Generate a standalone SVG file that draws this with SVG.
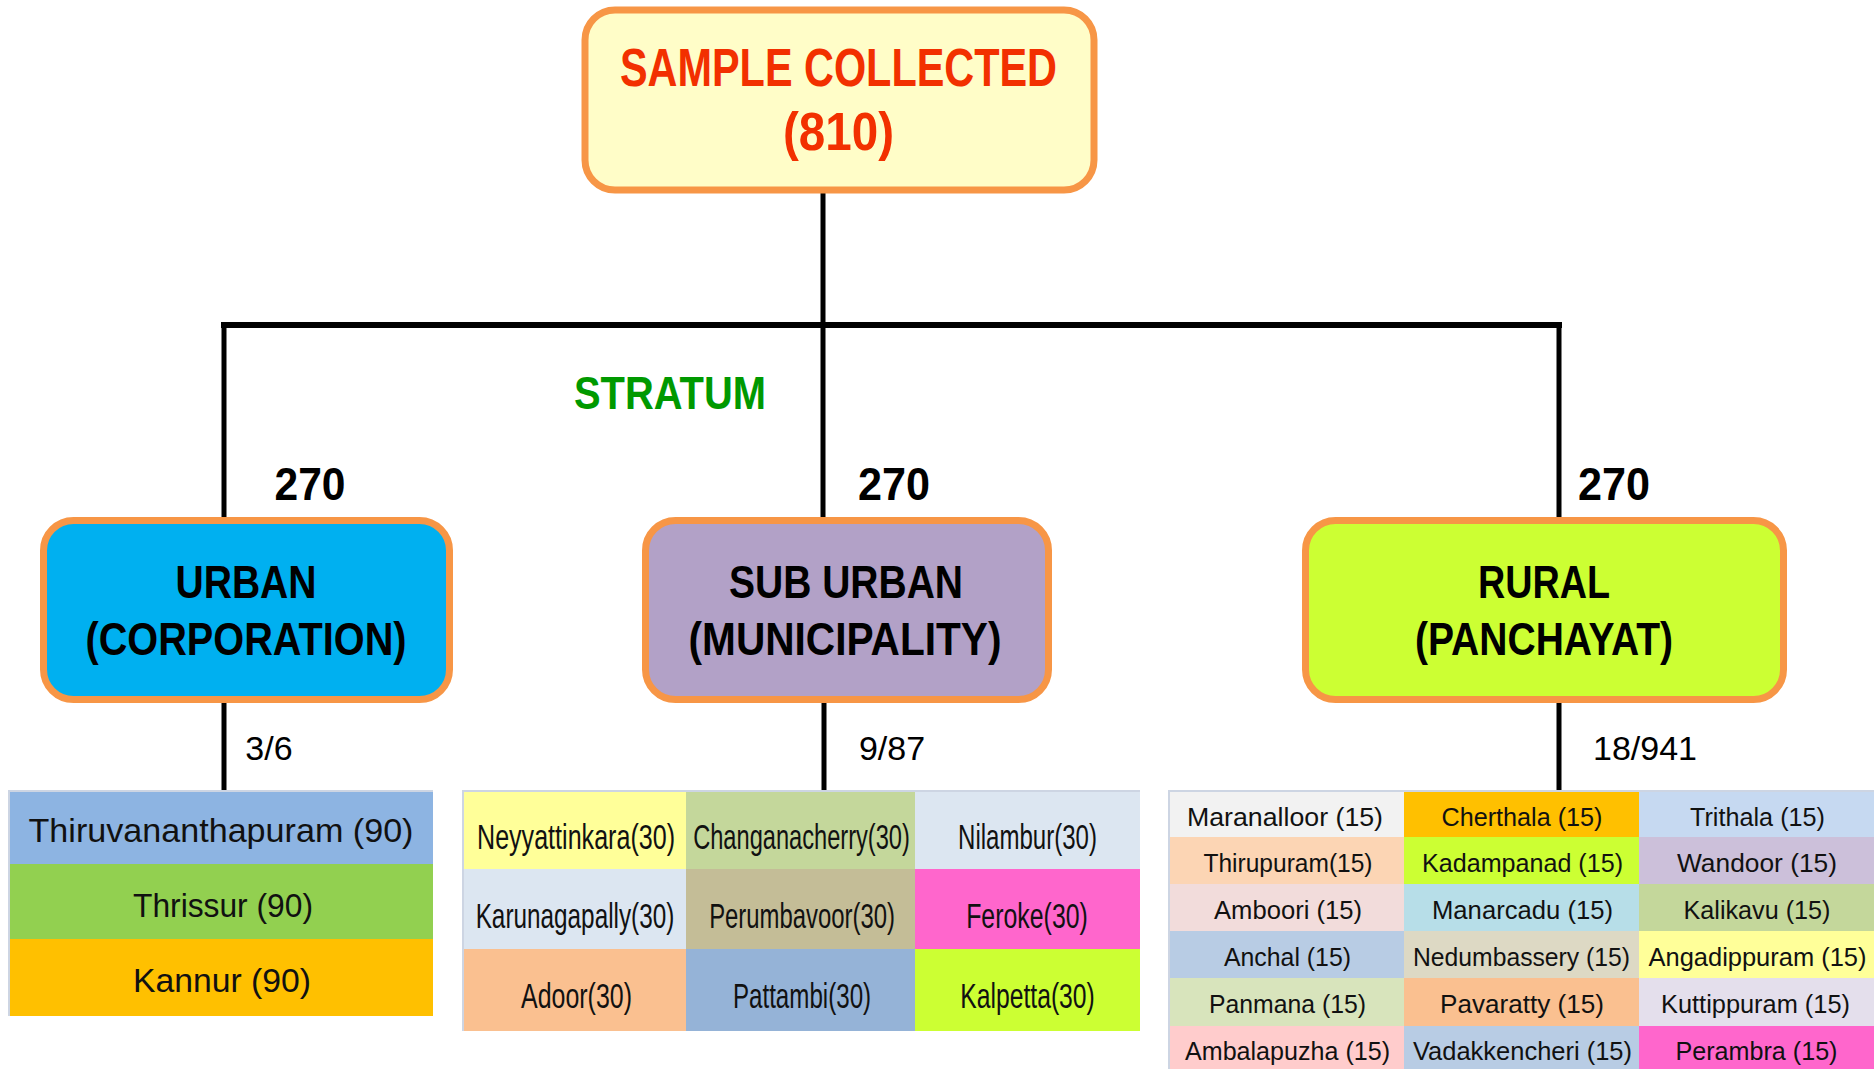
<svg xmlns="http://www.w3.org/2000/svg" width="1874" height="1069" viewBox="0 0 1874 1069">
  <style>
    .node { stroke: #F79646; stroke-width: 7; }
    .title { font-family: "Liberation Sans", Arial, sans-serif; font-weight: bold; font-size: 53px; fill: #F23000; text-anchor: middle; }
    .head { font-family: "Liberation Sans", Arial, sans-serif; font-weight: bold; font-size: 47px; fill: #000; text-anchor: middle; }
    .count { font-family: "Liberation Sans", Arial, sans-serif; font-weight: bold; font-size: 46px; fill: #000; text-anchor: middle; }
    .ratio { font-family: "Liberation Sans", Arial, sans-serif; font-size: 34px; fill: #000; text-anchor: middle; }
    .stratum { font-family: "Liberation Sans", Arial, sans-serif; font-weight: bold; font-size: 47px; fill: #009900; text-anchor: middle; }
    .wire { stroke: #000; stroke-width: 5; fill: none; }
    .bar { stroke: #000; stroke-width: 6; fill: none; }
    .edge { stroke: #CDD5E3; stroke-width: 2; fill: none; }
    .cellL { font-family: "Liberation Sans", Arial, sans-serif; font-size: 33px; fill: #111; text-anchor: middle; }
    .cellM { font-family: "Liberation Sans", Arial, sans-serif; font-size: 36px; fill: #111; text-anchor: middle; }
    .cellR { font-family: "Liberation Sans", Arial, sans-serif; font-size: 26px; fill: #111; text-anchor: middle; }
  </style>

  <rect width="1874" height="1069" fill="#FFFFFF"/>

  <!-- tree connectors -->
  <g id="connectors">
    <path class="wire" d="M823 193 V325"/>
    <path class="bar" d="M221 325 H1562"/>
    <path class="wire" d="M224 325 V517 M823 325 V517 M1559 325 V517"/>
    <path class="wire" d="M224 703 V791 M824 703 V791 M1559 703 V791"/>
  </g>

  <!-- branch labels -->
  <g id="labels">
    <text class="stratum" x="670" y="409" textLength="192" lengthAdjust="spacingAndGlyphs">STRATUM</text>
    <text class="count" x="310" y="500" textLength="71" lengthAdjust="spacingAndGlyphs">270</text>
    <text class="count" x="894" y="500" textLength="72" lengthAdjust="spacingAndGlyphs">270</text>
    <text class="count" x="1614" y="500" textLength="72" lengthAdjust="spacingAndGlyphs">270</text>
    <text class="ratio" x="269" y="760">3/6</text>
    <text class="ratio" x="892" y="760">9/87</text>
    <text class="ratio" x="1645" y="760">18/941</text>
  </g>

  <!-- root -->
  <g id="sample-collected">
    <rect class="node" x="585" y="10" width="509" height="180" rx="30" fill="#FFFDC8" stroke-width="6"/>
    <text class="title" x="838.5" y="86" textLength="437" lengthAdjust="spacingAndGlyphs">SAMPLE COLLECTED</text>
    <text class="title" x="838.5" y="150" textLength="111" lengthAdjust="spacingAndGlyphs">(810)</text>
  </g>

  <!-- strata -->
  <g id="urban">
    <rect class="node" x="43.5" y="520.5" width="406" height="179" rx="30" fill="#00B0F0"/>
    <text class="head" x="246" y="598" textLength="141" lengthAdjust="spacingAndGlyphs">URBAN</text>
    <text class="head" x="246" y="655" textLength="321" lengthAdjust="spacingAndGlyphs">(CORPORATION)</text>
  </g>
  <g id="sub-urban">
    <rect class="node" x="645.5" y="520.5" width="403" height="179" rx="30" fill="#B2A1C7"/>
    <text class="head" x="846" y="598" textLength="234" lengthAdjust="spacingAndGlyphs">SUB URBAN</text>
    <text class="head" x="845" y="655" textLength="313" lengthAdjust="spacingAndGlyphs">(MUNICIPALITY)</text>
  </g>
  <g id="rural">
    <rect class="node" x="1305.5" y="520.5" width="478" height="179" rx="30" fill="#CCFF33"/>
    <text class="head" x="1544" y="598" textLength="132" lengthAdjust="spacingAndGlyphs">RURAL</text>
    <text class="head" x="1544" y="655" textLength="258" lengthAdjust="spacingAndGlyphs">(PANCHAYAT)</text>
  </g>

  <!-- corporations -->
  <g id="urban-table">
    <rect x="9" y="791" width="424" height="73" fill="#8DB4E2"/>
    <rect x="9" y="864" width="424" height="75" fill="#92D050"/>
    <rect x="9" y="939" width="424" height="77" fill="#FFC000"/>
    <path class="edge" d="M9 1016 V791 H433"/>
    <text class="cellL" x="221" y="842" textLength="385" lengthAdjust="spacingAndGlyphs">Thiruvananthapuram (90)</text>
    <text class="cellL" x="223" y="917" textLength="180" lengthAdjust="spacingAndGlyphs">Thrissur (90)</text>
    <text class="cellL" x="222" y="992" textLength="178" lengthAdjust="spacingAndGlyphs">Kannur (90)</text>
  </g>

  <!-- municipalities: narrow lettering, squeezed horizontally -->
  <g id="sub-urban-table">
    <rect x="463" y="791" width="223" height="78" fill="#FFFF99"/>
    <rect x="686" y="791" width="229" height="78" fill="#C4D79B"/>
    <rect x="915" y="791" width="225" height="78" fill="#DCE6F1"/>
    <rect x="463" y="869" width="223" height="80" fill="#DCE6F1"/>
    <rect x="686" y="869" width="229" height="80" fill="#C4BD97"/>
    <rect x="915" y="869" width="225" height="80" fill="#FF66CC"/>
    <rect x="463" y="949" width="223" height="82" fill="#FAC090"/>
    <rect x="686" y="949" width="229" height="82" fill="#95B3D7"/>
    <rect x="915" y="949" width="225" height="82" fill="#CCFF33"/>
    <path class="edge" d="M463 1031 V791 H1140"/>
    <text class="cellM" transform="translate(576 849) scale(0.72 1)" textLength="275" lengthAdjust="spacingAndGlyphs">Neyyattinkara(30)</text>
    <text class="cellM" transform="translate(801.5 849) scale(0.72 1)" textLength="301" lengthAdjust="spacingAndGlyphs">Changanacherry(30)</text>
    <text class="cellM" transform="translate(1027.5 849) scale(0.72 1)" textLength="193" lengthAdjust="spacingAndGlyphs">Nilambur(30)</text>
    <text class="cellM" transform="translate(575 928) scale(0.72 1)" textLength="276" lengthAdjust="spacingAndGlyphs">Karunagapally(30)</text>
    <text class="cellM" transform="translate(802 928) scale(0.72 1)" textLength="258" lengthAdjust="spacingAndGlyphs">Perumbavoor(30)</text>
    <text class="cellM" transform="translate(1027 928) scale(0.72 1)" textLength="169" lengthAdjust="spacingAndGlyphs">Feroke(30)</text>
    <text class="cellM" transform="translate(576.5 1008) scale(0.72 1)" textLength="154" lengthAdjust="spacingAndGlyphs">Adoor(30)</text>
    <text class="cellM" transform="translate(802 1008) scale(0.72 1)" textLength="192" lengthAdjust="spacingAndGlyphs">Pattambi(30)</text>
    <text class="cellM" transform="translate(1027.5 1008) scale(0.72 1)" textLength="187" lengthAdjust="spacingAndGlyphs">Kalpetta(30)</text>
  </g>

  <!-- panchayats -->
  <g id="rural-table">
    <rect x="1169" y="791" width="235" height="46" fill="#F2F2F2"/>
    <rect x="1404" y="791" width="235" height="46" fill="#FFC000"/>
    <rect x="1639" y="791" width="235" height="46" fill="#C6D9F1"/>
    <rect x="1169" y="837" width="235" height="47" fill="#FCD5B4"/>
    <rect x="1404" y="837" width="235" height="47" fill="#CCFF33"/>
    <rect x="1639" y="837" width="235" height="47" fill="#CCC0DA"/>
    <rect x="1169" y="884" width="235" height="47" fill="#F2DCDB"/>
    <rect x="1404" y="884" width="235" height="47" fill="#B7DEE8"/>
    <rect x="1639" y="884" width="235" height="47" fill="#C4D79B"/>
    <rect x="1169" y="931" width="235" height="47" fill="#B8CCE4"/>
    <rect x="1404" y="931" width="235" height="47" fill="#DDD9C4"/>
    <rect x="1639" y="931" width="235" height="47" fill="#FFFF99"/>
    <rect x="1169" y="978" width="235" height="48" fill="#D8E4BC"/>
    <rect x="1404" y="978" width="235" height="48" fill="#FAC090"/>
    <rect x="1639" y="978" width="235" height="48" fill="#E4DFEC"/>
    <rect x="1169" y="1026" width="235" height="43" fill="#FFCCCC"/>
    <rect x="1404" y="1026" width="235" height="43" fill="#B8CCE4"/>
    <rect x="1639" y="1026" width="235" height="43" fill="#FF66CC"/>
    <path class="edge" d="M1169 1069 V791 H1874"/>

    <text class="cellR" x="1285" y="826" textLength="196" lengthAdjust="spacingAndGlyphs">Maranalloor (15)</text>
    <text class="cellR" x="1522" y="826" textLength="161" lengthAdjust="spacingAndGlyphs">Cherthala (15)</text>
    <text class="cellR" x="1757.5" y="826" textLength="135" lengthAdjust="spacingAndGlyphs">Trithala (15)</text>

    <text class="cellR" x="1288" y="872" textLength="169" lengthAdjust="spacingAndGlyphs">Thirupuram(15)</text>
    <text class="cellR" x="1522.5" y="872" textLength="201" lengthAdjust="spacingAndGlyphs">Kadampanad (15)</text>
    <text class="cellR" x="1757" y="872" textLength="160" lengthAdjust="spacingAndGlyphs">Wandoor (15)</text>

    <text class="cellR" x="1288" y="919" textLength="148" lengthAdjust="spacingAndGlyphs">Amboori (15)</text>
    <text class="cellR" x="1522.5" y="919" textLength="181" lengthAdjust="spacingAndGlyphs">Manarcadu (15)</text>
    <text class="cellR" x="1757" y="919" textLength="147" lengthAdjust="spacingAndGlyphs">Kalikavu (15)</text>

    <text class="cellR" x="1287.5" y="966" textLength="127" lengthAdjust="spacingAndGlyphs">Anchal (15)</text>
    <text class="cellR" x="1521.5" y="966" textLength="217" lengthAdjust="spacingAndGlyphs">Nedumbassery (15)</text>
    <text class="cellR" x="1757.5" y="966" textLength="218" lengthAdjust="spacingAndGlyphs">Angadippuram (15)</text>

    <text class="cellR" x="1287.5" y="1013" textLength="157" lengthAdjust="spacingAndGlyphs">Panmana (15)</text>
    <text class="cellR" x="1522" y="1013" textLength="164" lengthAdjust="spacingAndGlyphs">Pavaratty (15)</text>
    <text class="cellR" x="1755.5" y="1013" textLength="189" lengthAdjust="spacingAndGlyphs">Kuttippuram (15)</text>

    <text class="cellR" x="1287.5" y="1060" textLength="205" lengthAdjust="spacingAndGlyphs">Ambalapuzha (15)</text>
    <text class="cellR" x="1522.5" y="1060" textLength="219" lengthAdjust="spacingAndGlyphs">Vadakkencheri (15)</text>
    <text class="cellR" x="1756.5" y="1060" textLength="162" lengthAdjust="spacingAndGlyphs">Perambra (15)</text>
  </g>
</svg>
